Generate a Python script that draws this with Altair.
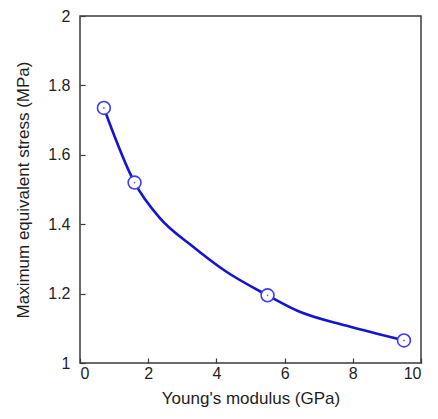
import altair as alt
import pandas as pd

# Measured data points (markers)
point_x = [0.7, 1.6, 5.5, 9.5]
point_y = [1.735, 1.52, 1.195, 1.065]

# Smooth curve
curve_x = [0.7, 1.6, 2.33, 3.29, 4.26, 5.5, 6.39, 7.83, 9.5]
curve_y = [1.735, 1.52, 1.419, 1.337, 1.265, 1.195, 1.15, 1.107, 1.065]

# Axes
x_domain = [0, 10]
y_domain = [1, 2]
x_ticks = [0, 1, 2, 3, 4, 5, 6, 7, 8, 9, 10]
y_ticks = [1.0, 1.05, 1.1, 1.15, 1.2, 1.25, 1.3, 1.35, 1.4, 1.45, 1.5,
           1.55, 1.6, 1.65, 1.7, 1.75, 1.8, 1.85, 1.9, 1.95, 2.0]

x_title = "Young's modulus (GPa)"
y_title = "Maximum equivalent stress (MPa)"

pts = pd.DataFrame({"x": point_x, "y": point_y})
crv = pd.DataFrame({"x": curve_x, "y": curve_y})

FONT = "Liberation Sans"
TXT = "#1e1e1e"
FRAME = "#3a3a3a"
TICK = 5

xs = alt.Scale(domain=x_domain, nice=False, zero=False)
ys = alt.Scale(domain=y_domain, nice=False, zero=False)

line = alt.Chart(crv).mark_line(
    interpolate="monotone", color="#1414d2", strokeWidth=2.6
).encode(
    x=alt.X("x:Q", scale=xs, axis=alt.Axis(
        values=x_ticks, format="d",
        labelExpr="datum.value % 2 == 0 ? datum.label : ''",
        ticks=True, tickSize=TICK, offset=-TICK, tickColor=FRAME, tickWidth=1.2,
        domain=False, grid=False,
        labelFont=FONT, labelFontSize=16, labelColor=TXT, labelPadding=2,
        title=x_title, titleFont=FONT, titleFontSize=17, titleFontWeight="normal",
        titleColor=TXT, titlePadding=9, orient="bottom")),
    y=alt.Y("y:Q", scale=ys, axis=alt.Axis(
        values=y_ticks, format="~g",
        labelExpr="abs(datum.value * 5 - round(datum.value * 5)) < 0.001 ? datum.label : ''",
        ticks=True, tickSize=TICK, offset=-TICK, tickColor=FRAME, tickWidth=1.2,
        domain=False, grid=False,
        labelFont=FONT, labelFontSize=16, labelColor=TXT, labelPadding=10,
        title=y_title, titleFont=FONT, titleFontSize=17, titleFontWeight="normal",
        titleColor=TXT, titlePadding=15, orient="left")),
)

circles = alt.Chart(pts).mark_point(
    shape="circle", filled=False, fill="white", fillOpacity=1,
    stroke="#3c3cf5", strokeWidth=1.6, size=165, opacity=1
).encode(
    x=alt.X("x:Q", scale=xs),
    y=alt.Y("y:Q", scale=ys),
)

dots = alt.Chart(pts).mark_point(
    shape="circle", filled=True, color="#6060f0", size=3, opacity=1
).encode(
    x=alt.X("x:Q", scale=xs),
    y=alt.Y("y:Q", scale=ys),
)

chart = alt.layer(
    line, circles, dots,
).properties(
    width=341, height=347,
    autosize=alt.AutoSizeParams(type="none"),
    padding={"left": 72, "top": 8, "right": 9, "bottom": 45},
    background="white",
).configure_view(
    stroke=FRAME, strokeWidth=1.5
)

chart.save("out.html", embed_options={"renderer": "svg", "actions": False})
